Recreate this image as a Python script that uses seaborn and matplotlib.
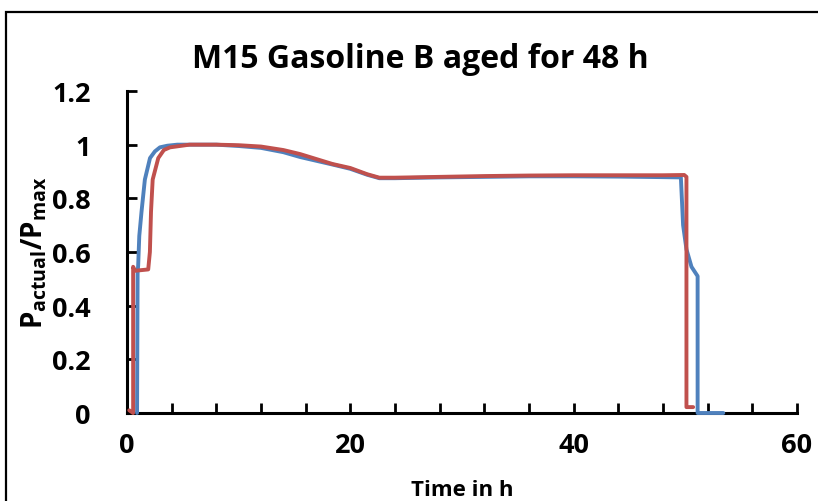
import matplotlib
matplotlib.use("Agg")
import matplotlib.pyplot as plt
from matplotlib.ticker import MultipleLocator
from matplotlib.patches import Rectangle
import seaborn as sns
import pandas as pd

sns.set_theme(style="white")
plt.rcParams['font.family'] = ['Open Sans', 'DejaVu Sans']
plt.rcParams['font.weight'] = 'bold'
plt.rcParams['mathtext.fontset'] = 'custom'
plt.rcParams['mathtext.bf'] = 'Open Sans:bold'
plt.rcParams['mathtext.rm'] = 'Open Sans:bold'

title = "M15 Gasoline B aged for 48 h"
x_label = "Time in h"
y_label = r"$\mathbf{P_{actual}/P_{max}}$"

blue_t = [0.9, 0.95, 1.0, 1.1, 1.3, 1.6, 2.06, 2.5, 2.95, 3.6, 4.5, 8.0, 10.0, 12.0,
          14.0, 15.5, 18.4, 20.0, 21.5, 22.6, 24.0, 28.0, 32.0, 36.0, 40.0, 44.0,
          48.0, 49.6, 49.8, 50.1, 50.55, 51.1, 51.1, 53.4]
blue_p = [0.0, 0.52, 0.55, 0.66, 0.75, 0.87, 0.95, 0.975, 0.99, 0.996, 1.0, 1.0, 0.995, 0.988,
          0.972, 0.954, 0.926, 0.91, 0.888, 0.875, 0.875, 0.878, 0.88, 0.882, 0.882, 0.881,
          0.879, 0.878, 0.70, 0.61, 0.545, 0.51, 0.0, 0.0]

red_t = [0.2, 0.55, 0.55, 0.7, 1.9, 2.05, 2.15, 2.3, 2.8, 3.3, 3.85, 5.6, 8.0, 10.0,
         12.0, 14.0, 15.5, 18.4, 20.0, 21.5, 22.6, 24.0, 28.0, 32.0, 36.0, 40.0, 44.0,
         48.0, 49.9, 50.1, 50.1, 50.7]
red_p = [0.01, 0.0, 0.545, 0.53, 0.535, 0.6, 0.75, 0.87, 0.95, 0.98, 0.99, 1.0, 1.0, 0.998,
         0.993, 0.98, 0.965, 0.928, 0.913, 0.89, 0.877, 0.877, 0.88, 0.883, 0.885, 0.886, 0.886,
         0.886, 0.887, 0.88, 0.022, 0.022]

blue_df = pd.DataFrame({"t": blue_t, "p": blue_p})
red_df = pd.DataFrame({"t": red_t, "p": red_p})

fig = plt.figure(figsize=(8.18, 5.02), dpi=100)
ax = fig.add_axes([127/818, 1-414/502, (797-127)/818, (414-92)/502])

sns.lineplot(data=blue_df, x="t", y="p", sort=False, estimator=None, ax=ax,
             color="#4F81BD", linewidth=2.8, zorder=5)
sns.lineplot(data=red_df, x="t", y="p", sort=False, estimator=None, ax=ax,
             color="#C0504D", linewidth=2.8, zorder=6)
for ln in ax.lines:
    ln.set_clip_on(False)

ax.set_xlim(0, 60)
ax.set_ylim(0, 1.2)
ax.xaxis.set_minor_locator(MultipleLocator(4))
ax.set_yticks([0, 0.2, 0.4, 0.6, 0.8, 1.0, 1.2])
ax.set_yticklabels(["0", "0.2", "0.4", "0.6", "0.8", "1", "1.2"])
ax.set_xticks([0, 20, 40, 60])
ax.set_xticklabels(["0", "20", "40", "60"])

for s in ["top", "right"]:
    ax.spines[s].set_visible(False)
for s in ["left", "bottom"]:
    ax.spines[s].set_visible(True)
    ax.spines[s].set_color("black")
    ax.spines[s].set_linewidth(2.2)
    ax.spines[s].set_zorder(4)

ax.tick_params(axis="both", which="both", direction="in", length=7, width=2,
               color="black", bottom=True, left=True)
ax.tick_params(axis="x", which="major", labelsize=19.5, pad=14)
ax.tick_params(axis="y", which="major", labelsize=19.5, pad=26)
for lab in ax.get_xticklabels() + ax.get_yticklabels():
    lab.set_fontweight("bold")
    lab.set_color("black")

ax.set_xlabel(x_label, fontsize=16, fontweight="bold", color="black", labelpad=15)
ax.set_ylabel(y_label, fontsize=20, color="black", labelpad=2)
fig.text(420/818, 1 - 59/502, title, fontsize=23, fontweight="bold", color="black",
         ha="center", va="center")
ax.set_facecolor("white")

fig.patches.append(Rectangle((6/818, -0.1), 1.2, 1 - 13/502 + 0.1,
                             transform=fig.transFigure, fill=False,
                             edgecolor="black", linewidth=1.6))

fig.savefig("out.png", dpi=100)
